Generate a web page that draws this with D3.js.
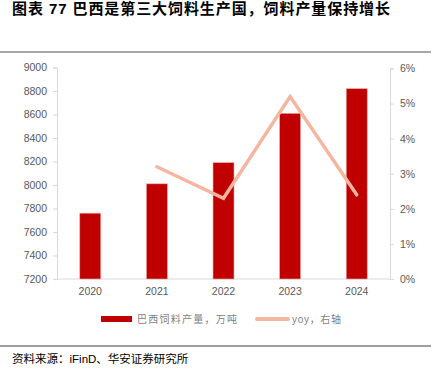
<!DOCTYPE html>
<html lang="zh">
<head>
<meta charset="utf-8">
<title>巴西饲料产量</title>
<script src="https://cdn.jsdelivr.net/npm/d3@7"></script>
<style>
body { margin:0; background:#fff; }
text { font-family: "Liberation Sans", "Noto Sans CJK SC", sans-serif; }
.cjk { font-family: "Liberation Sans", "Noto Sans CJK SC", sans-serif; }
.axis text { fill:#595959; font-size:10.5px; }
.axis path, .axis line { stroke:#d9d9d9; }
</style>
</head>
<body>
<div id="main"></div>
<script>
// data
var years = ['2020','2021','2022','2023','2024']
var output = [7760, 8010, 8190, 8610, 8820]   // 万吨
var yoy = [null, 3.2, 2.3, 5.2, 2.4]           // %
var leftTicks = [7200,7400,7600,7800,8000,8200,8400,8600,8800,9000]
var rightTicks = [0,1,2,3,4,5,6]

var W = 437, H = 370
var svg = d3.select("#main").append("svg").attr("width",W).attr("height",H)

// title + rules
svg.append("text").attr("class","cjk").attr("x",12).attr("y",14)
  .attr("font-size","15px").attr("font-weight","bold").attr("fill","#000")
  .attr("textLength",378).attr("lengthAdjust","spacing")
  .text("图表 77 巴西是第三大饲料生产国，饲料产量保持增长")
svg.append("line").attr("x1",0).attr("x2",431).attr("y1",52).attr("y2",52)
  .attr("stroke","#a6a6a6").attr("stroke-width",2)

var pLeft = 57, pRight = 390, pTop = 67.5, pBottom = 279

var x = d3.scaleBand().domain(years).range([pLeft,pRight]).paddingInner(0.685).paddingOuter(0.342)
var y = d3.scaleLinear().domain([7200,9000]).range([pBottom,pTop])
var y2 = d3.scaleLinear().domain([0,6]).range([pBottom,pTop+1])

// axes
svg.append("g").attr("class","axis").attr("transform","translate("+pLeft+",0)")
  .call(d3.axisLeft(y).tickValues(leftTicks).tickSize(4).tickPadding(6).tickFormat(d3.format("d")))
svg.append("g").attr("class","axis").attr("transform","translate("+pRight+",0)")
  .call(d3.axisRight(y2).tickValues(rightTicks).tickSize(4).tickPadding(6).tickFormat(function(d){return d+"%"}))
var xa = svg.append("g").attr("class","axis").attr("transform","translate(0,"+pBottom+")")
  .call(d3.axisBottom(x).tickSize(0).tickPadding(9))
xa.select("path").attr("d","M"+pLeft+",0H"+pRight)

// bars
svg.selectAll("rect.bar").data(output).enter().append("rect").attr("class","bar")
  .attr("x",function(d,i){return x(years[i])})
  .attr("width",x.bandwidth())
  .attr("y",function(d){return y(d)})
  .attr("height",function(d){return pBottom-y(d)})
  .attr("fill","#c00000").attr("stroke","#f2a9a0").attr("stroke-width",0.6)

// yoy line
var pts = years.map(function(yr,i){return [yr,yoy[i]]}).filter(function(p){return p[1]!=null})
var line = d3.line().x(function(p){return x(p[0])+x.bandwidth()/2}).y(function(p){return y2(p[1])})
svg.append("path").datum(pts).attr("d",line)
  .attr("fill","none").attr("stroke","#f4b6a0").attr("stroke-width",3.5).attr("stroke-linecap","round")

// legend
var ly = 319
svg.append("rect").attr("x",101).attr("y",ly-3).attr("width",31).attr("height",6).attr("fill","#c00000")
svg.append("text").attr("class","cjk").attr("x",137).attr("y",ly+3.5).attr("font-size","10px").attr("fill","#7f7f7f")
  .attr("textLength",100).attr("lengthAdjust","spacing").text("巴西饲料产量，万吨")
svg.append("line").attr("x1",257).attr("x2",288).attr("y1",ly).attr("y2",ly)
  .attr("stroke","#f4b6a0").attr("stroke-width",4).attr("stroke-linecap","round")
svg.append("text").attr("class","cjk").attr("x",292).attr("y",ly+3.5).attr("font-size","10px").attr("fill","#7f7f7f")
  .attr("textLength",49).attr("lengthAdjust","spacing").text("yoy，右轴")

// footer
svg.append("line").attr("x1",0).attr("x2",431).attr("y1",346).attr("y2",346)
  .attr("stroke","#404040").attr("stroke-width",1.2)
svg.append("text").attr("class","cjk").attr("x",12).attr("y",363).attr("font-size","11.5px").attr("fill","#000")
  .text("资料来源：iFinD、华安证券研究所")
</script>
</body>
</html>
